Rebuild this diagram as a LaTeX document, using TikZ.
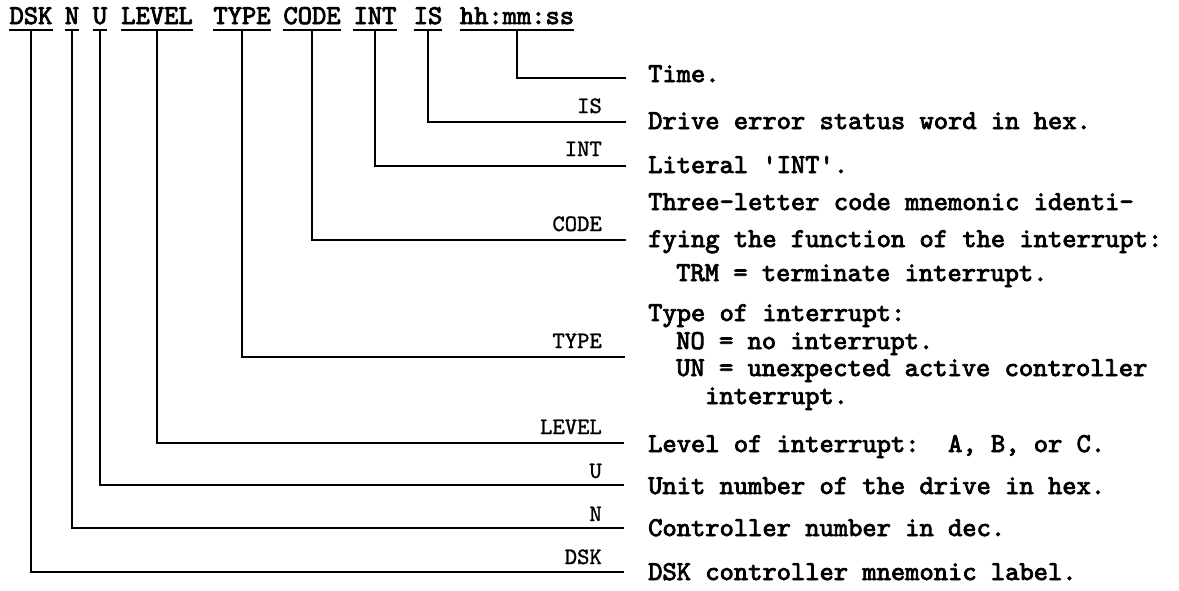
\documentclass[tikz,border=0pt]{standalone}
\usepackage{fontspec}
\newfontfamily\mtbold{lmmono10-regular.otf}[FakeBold=3]
\newfontfamily\mtmed{lmmono10-regular.otf}[FakeBold=1.2]
\begin{document}
\begin{tikzpicture}[x=1pt,y=-1pt,
  hdr/.style={font=\fontsize{27.2}{30}\selectfont\mtbold, inner sep=0pt, anchor=base},
  lbl/.style={font=\fontsize{23.5}{26}\selectfont\mtmed, inner sep=0pt, anchor=base east},
  dsc/.style={font=\fontsize{27.2}{30}\selectfont\mtbold, inner sep=0pt, anchor=base west},
  ln/.style={line width=2pt},
  ul/.style={line width=2.4pt}]
\useasboundingbox (0,0) rectangle (1179,590);
% header fields
\node[hdr] (hdsk)  at (31,24)  {DSK};
\node[hdr] (hn)    at (72,24)  {N};
\node[hdr] (hu)    at (100,24) {U};
\node[hdr] (hlev)  at (157,24) {LEVEL};
\node[hdr] (htype) at (242,24) {TYPE};
\node[hdr] (hcode) at (312,24) {CODE};
\node[hdr] (hint)  at (375,24) {INT};
\node[hdr] (his)   at (428,24) {IS};
\node[hdr] (htime) at (517,24) {hh:mm:ss};
\foreach \n in {hdsk,hn,hu,hlev,htype,hcode,hint,his,htime}
  \draw[ul] ([yshift=-6pt]\n.base west) -- ([yshift=-6pt]\n.base east);
% line ends
\coordinate (etime) at (626,78);
\coordinate (eis)   at (626,122);
\coordinate (eint)  at (626,166);
\coordinate (ecode) at (626,240);
\coordinate (etype) at (625,357);
\coordinate (elev)  at (624,443);
\coordinate (eu)    at (624,485);
\coordinate (en)    at (624,528);
\coordinate (edsk)  at (624,572);
% connectors
\draw[ln] ([yshift=-6pt]htime.base) |- (etime);
\draw[ln] ([yshift=-6pt]his.base)   |- (eis);
\draw[ln] ([yshift=-6pt]hint.base)  |- (eint);
\draw[ln] ([yshift=-6pt]hcode.base) |- (ecode);
\draw[ln] ([yshift=-6pt]htype.base) |- (etype);
\draw[ln] ([yshift=-6pt]hlev.base)  |- (elev);
\draw[ln] ([yshift=-6pt]hu.base)    |- (eu);
\draw[ln] ([yshift=-6pt]hn.base)    |- (en);
\draw[ln] ([yshift=-6pt]hdsk.base)  |- (edsk);
% labels
\node[lbl] (lis)   at (602,113) {IS};
\node[lbl] (lint)  at (602,156) {INT};
\node[lbl] (lcode) at (602,231) {CODE};
\node[lbl] (ltype) at (602,348) {TYPE};
\node[lbl] (llev)  at (602,434) {LEVEL};
\node[lbl] (lu)    at (602,478) {U};
\node[lbl] (ln)    at (602,521) {N};
\node[lbl] (ldsk)  at (602,564) {DSK};
% descriptions
\node[dsc] (dtime) at (648,82)  {Time.};
\node[dsc] (dis)   at (648,129) {Drive error status word in hex.};
\node[dsc] (dint)  at (648,173) {Literal 'INT'.};
\node[dsc] (dc1)   at (648,210) {Three-letter code mnemonic identi-};
\node[dsc] (dc2)   at (648,247) {fying the function of the interrupt:};
\node[dsc] (dc3)   at (676,281) {TRM = terminate interrupt.};
\node[dsc] (dt1)   at (648,321) {Type of interrupt:};
\node[dsc] (dt2)   at (676,349) {NO = no interrupt.};
\node[dsc] (dt3)   at (676,376) {UN = unexpected active controller};
\node[dsc] (dt4)   at (705,404) {interrupt.};
\node[dsc] (dlev)  at (648,452) {Level of interrupt:\ \ A, B, or C.};
\node[dsc] (du)    at (648,494) {Unit number of the drive in hex.};
\node[dsc] (dn)    at (648,536) {Controller number in dec.};
\node[dsc] (ddsk)  at (648,580) {DSK controller mnemonic label.};
\end{tikzpicture}
\end{document}
